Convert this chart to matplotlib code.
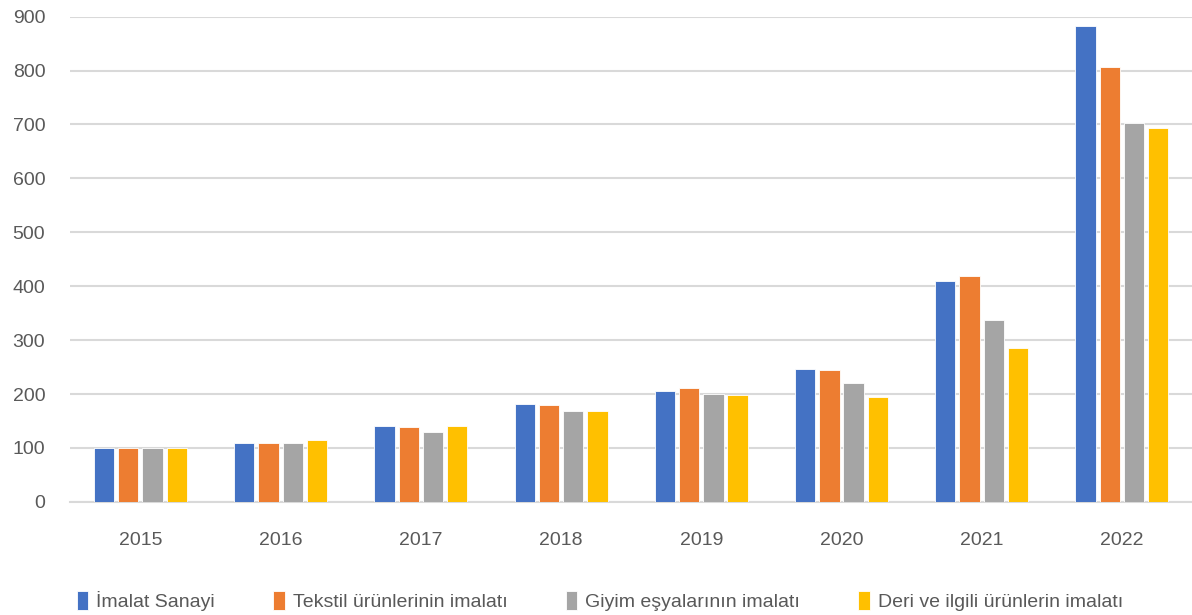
import numpy as np
import matplotlib.pyplot as plt

plt.rcParams['font.family'] = ['Liberation Sans', 'DejaVu Sans']

# Yıllar ve seriler
years = ['2015', '2016', '2017', '2018', '2019', '2020', '2021', '2022']
imalat = [100, 109, 141, 181, 205, 246, 410, 883]
tekstil = [100, 109, 139, 179, 211, 244, 418, 806]
giyim = [100, 109, 130, 168, 200, 220, 338, 702]
deri = [100, 115, 141, 168, 198, 195, 285, 693]

series = [imalat, tekstil, giyim, deri]
names = ['İmalat Sanayi', 'Tekstil ürünlerinin imalatı',
         'Giyim eşyalarının imalatı', 'Deri ve ilgili ürünlerin imalatı']
colors = ['#4472C4', '#ED7D31', '#A5A5A5', '#FFC000']

fig = plt.figure(figsize=(11.92, 6.15), dpi=100)
ax = fig.add_axes([0.059, 0.184, 0.941, 0.789])

x = np.arange(len(years))
step = 0.173
w = 0.145
for i, (vals, name, c) in enumerate(zip(series, names, colors)):
    ax.bar(x + (i - 1.5) * step, vals, w, color=c, edgecolor='white',
           linewidth=0.6, label=name, zorder=3)

ax.set_xlim(-0.5, len(years) - 0.5)
ax.set_ylim(0, 900)
ax.set_yticks(range(0, 901, 100))
ax.set_xticks(x)
ax.set_xticklabels(years)
ax.grid(axis='y', color='#d9d9d9', linewidth=1.5, zorder=0)
for s in ['top', 'right', 'left']:
    ax.spines[s].set_visible(False)
ax.spines['bottom'].set_color('#d9d9d9')
ax.spines['bottom'].set_linewidth(1.5)
ax.tick_params(axis='both', length=0, colors='#595959', labelsize=14)
ax.tick_params(axis='x', pad=22)
ax.tick_params(axis='y', pad=18)

leg = ax.legend(loc='upper center', bbox_to_anchor=(0.472, -0.148), ncol=4,
                frameon=False, fontsize=14, handlelength=0.6, handleheight=1.1,
                handletextpad=0.4, columnspacing=3.0)
for t in leg.get_texts():
    t.set_color('#595959')

fig.savefig('out.png', dpi=100)
